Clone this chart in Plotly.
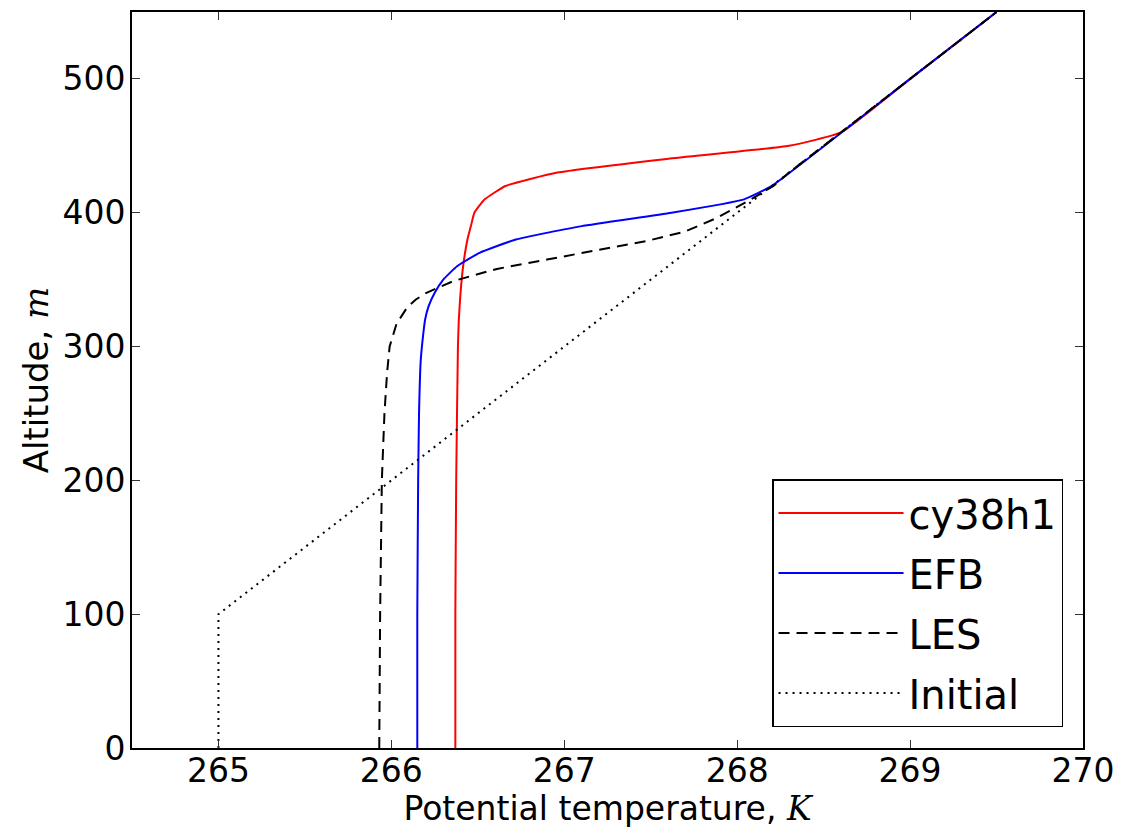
import plotly.graph_objects as go

# cy38h1 profile
z_cy = [0, 100, 200, 300, 320, 340, 360, 380, 390, 400, 410, 420, 430, 440, 450, 460, 500, 550]
th_cy = [266.37, 266.37, 266.375, 266.385, 266.39, 266.40, 266.415, 266.44, 266.46, 266.48, 266.54, 266.66,
         266.96, 267.58, 268.30, 268.60, 269.0, 269.5]

# EFB profile
z_efb = [0, 100, 200, 250, 290, 310, 320, 330, 340, 350, 360, 370, 380, 390, 400, 410, 420, 500, 550]
th_efb = [266.15, 266.15, 266.155, 266.16, 266.17, 266.185, 266.195, 266.215, 266.25, 266.30, 266.38, 266.51,
          266.72, 267.10, 267.62, 268.04, 268.20, 269.0, 269.5]

# LES profile
z_les = [0, 100, 200, 250, 280, 300, 317, 329, 335, 340, 349, 358, 365, 372, 379, 386, 396, 410, 420, 430, 500, 550]
th_les = [265.93, 265.935, 265.945, 265.96, 265.975, 265.99, 266.03, 266.09, 266.14, 266.20, 266.36, 266.61,
          266.90, 267.19, 267.48, 267.70, 267.88, 268.08, 268.21, 268.30, 269.0, 269.5]

# Initial profile
z_init = [0, 100, 550]
th_init = [265.0, 265.0, 269.5]

x_ticks = [265, 266, 267, 268, 269, 270]
y_ticks = [0, 100, 200, 300, 400, 500]

FONT = "DejaVu Sans"
fig = go.Figure()
fig.add_trace(go.Scatter(x=th_cy, y=z_cy, mode="lines", name="cy38h1", legendgroup="a",
                         line=dict(color="#ff0000", width=2, shape="spline", smoothing=0.4)))
fig.add_trace(go.Scatter(x=th_efb, y=z_efb, mode="lines", name="EFB", legendgroup="b",
                         line=dict(color="#0000ff", width=2, shape="spline", smoothing=0.4)))
fig.add_trace(go.Scatter(x=th_les, y=z_les, mode="lines", name="LES", legendgroup="c",
                         line=dict(color="black", width=2, dash="11px,7px")))
fig.add_trace(go.Scatter(x=th_init, y=z_init, mode="lines", name="Initial", legendgroup="d",
                         line=dict(color="black", width=2, dash="2px,5px")))

axis_common = dict(showline=True, linecolor="black", linewidth=2, mirror="ticks",
                   ticks="inside", ticklen=8, tickwidth=1, tickcolor="#333333",
                   showgrid=False, zeroline=False, automargin=False,
                   tickfont=dict(family=FONT, size=33, color="black"))

fig.update_xaxes(range=[264.5, 270], tickvals=x_ticks, ticktext=[str(t) for t in x_ticks],
                 title=dict(text="Potential temperature, <span style=\"font-family:'DejaVu Serif'\"><i>K</i></span>",
                            font=dict(family=FONT, size=33, color="black"), standoff=3),
                 ticklabelstandoff=-8, **axis_common)
fig.update_yaxes(range=[0, 550], tickvals=y_ticks, ticktext=[str(t) for t in y_ticks],
                 title=dict(text="Altitude, <span style=\"font-family:'DejaVu Serif'\"><i>m</i></span>",
                            font=dict(family=FONT, size=34, color="black"), standoff=4),
                 ticklabelstandoff=-2, **axis_common)

fig.update_layout(
    width=1122, height=828,
    margin=dict(l=132, r=39, t=12, b=80, autoexpand=False),
    plot_bgcolor="white", paper_bgcolor="white",
    font=dict(family=FONT, color="black"),
    showlegend=True,
    legend=dict(x=0.979, xanchor="right", y=0.0285, yanchor="bottom",
                bordercolor="black", borderwidth=1.5, bgcolor="white",
                font=dict(family=FONT, size=40, color="black"),
                tracegroupgap=5, traceorder="grouped", itemwidth=125),
)

fig.write_html("out.html")
